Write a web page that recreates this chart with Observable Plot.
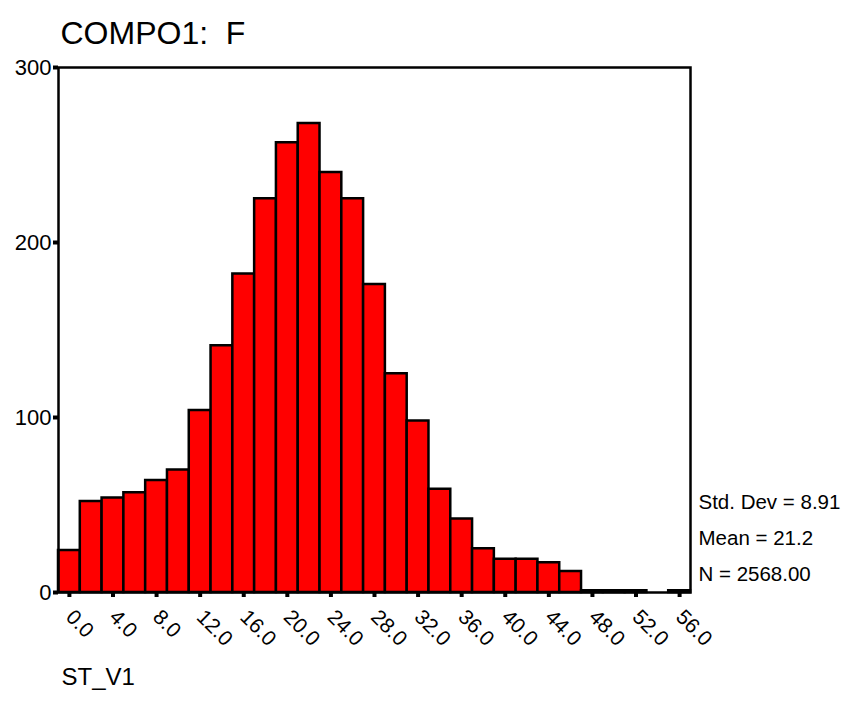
<!DOCTYPE html>
<html>
<head>
<meta charset="utf-8">
<script src="https://cdn.jsdelivr.net/npm/d3@7"></script>
<script src="https://cdn.jsdelivr.net/npm/@observablehq/plot@0.6"></script>
<style>
  html, body { margin: 0; padding: 0; background: #fff; }
  svg { font-family: "Liberation Sans", Arial, sans-serif; }
</style>
</head>
<body>
<div id="chart"></div>
<script>
// Bin centres (width 2) and counts
const binCenters = [0, 2, 4, 6, 8, 10, 12, 14, 16, 18, 20, 22, 24, 26, 28, 30, 32, 34, 36, 38, 40, 42, 44, 46, 48, 50, 52, 54, 56];
const counts     = [24, 52, 54, 57, 64, 70, 104, 141, 182, 225, 257, 268, 240, 225, 176, 125, 98, 59, 42, 25, 19, 19, 17, 12, 1, 1, 1, 0, 1];
const xTicks = [0, 4, 8, 12, 16, 20, 24, 28, 32, 36, 40, 44, 48, 52, 56];
const yTicks = [0, 100, 200, 300];
const titleText = "COMPO1:  F";
const xLabelText = "ST_V1";
const statsLabels = ["Std. Dev = 8.91", "Mean = 21.2", "N = 2568.00"];
const binWidth = 2;

const bins = binCenters.map((c, i) => ({x1: c - binWidth / 2, x2: c + binWidth / 2, count: counts[i]}));
const statsDy = [-84, -48, -12];

const chart = Plot.plot({
  width: 847,
  height: 714,
  marginLeft: 58,
  marginRight: 157,
  marginTop: 67,
  marginBottom: 122,
  style: {fontFamily: "'Liberation Sans', Arial, sans-serif", background: "#fff", overflow: "visible"},
  x: {domain: [-1, 57]},
  y: {domain: [0, 300]},
  marks: [
    Plot.rectY(bins, {x1: "x1", x2: "x2", y: "count", fill: "#ff0000", stroke: "#000", strokeWidth: 2.5}),
    Plot.frame({stroke: "#000", strokeWidth: 2.5}),
    Plot.axisY({ticks: yTicks, tickSize: 5, strokeWidth: 4, tickPadding: 2, fontSize: 22, label: null, tickFormat: d => String(d)}),
    Plot.axisX({ticks: xTicks, tickSize: 5, strokeWidth: 4, tickPadding: 16, tickRotate: 45, fontSize: 21, label: null, tickFormat: d => d.toFixed(1)}),
    Plot.text([titleText], {frameAnchor: "top-left", text: d => d, dx: 2, dy: -46, fontSize: 32, textAnchor: "start", fill: "#000"}),
    Plot.text([xLabelText], {frameAnchor: "bottom-left", text: d => d, dx: 3, dy: 92, fontSize: 24, textAnchor: "start", fill: "#000"}),
    ...statsLabels.map((t, i) => Plot.text([t], {frameAnchor: "bottom-right", text: d => d, dx: 8, dy: statsDy[i], fontSize: 20.5, textAnchor: "start", fill: "#000"}))
  ]
});
document.getElementById("chart").appendChild(chart);
</script>
</body>
</html>
